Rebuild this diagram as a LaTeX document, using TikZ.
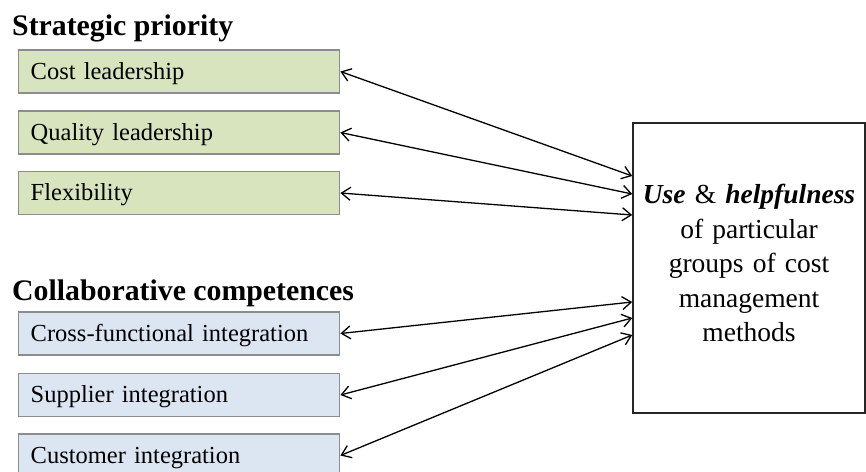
\documentclass[tikz,border=0pt]{standalone}
\usepackage{fontspec}
\setmainfont{Liberation Serif}
\usetikzlibrary{arrows.meta}
\definecolor{priogreen}{HTML}{D7E4BD}
\definecolor{compblue}{HTML}{DCE6F2}
\definecolor{boxgray}{HTML}{8C8C8C}
\tikzset{
  factor/.style={draw=boxgray, line width=1.4pt, anchor=west, inner xsep=12pt, inner ysep=0pt,
    text width=297pt, align=left, minimum height=43pt, text height=19pt, text depth=4pt,
    font=\fontsize{24.5}{29}\selectfont},
  heading/.style={anchor=base west, inner sep=0pt, font=\fontsize{29.8}{34}\selectfont\bfseries},
  link/.style={line width=1.3pt, {Straight Barb[length=9pt,width=13pt]}-{Straight Barb[length=9pt,width=13pt]}},
}
\begin{document}
\begin{tikzpicture}[x=1pt,y=-1pt]
  \clip (0,0) rectangle (866,471);
  % headings
  \node[heading] (prio) at (12,35) {Strategic priority};
  \node[heading] (comp) at (12,300) {Collaborative competences};
  % left factors
  \node[factor, fill=priogreen] (cost) at (18,71.5) {Cost leadership};
  \node[factor, fill=priogreen] (quality) at (18,132.5) {Quality leadership};
  \node[factor, fill=priogreen] (flex) at (18,193) {Flexibility};
  \node[factor, fill=compblue] (cross) at (18,333.5) {Cross-functional integration};
  \node[factor, fill=compblue] (supplier) at (18,395) {Supplier integration};
  \node[factor, fill=compblue] (customer) at (18,455.5) {Customer integration};
  % outcome box
  \node[draw=black!85, line width=1.5pt, minimum width=232pt, minimum height=290pt, inner sep=0pt] (usage) at (749,268) {};
  \node[anchor=north, inner sep=0pt, text width=230pt, align=center,
    font=\fontsize{27.5}{34.5}\selectfont] (usagetext) at (749,184)
    {\textbf{\textit{Use}} \& \textbf{\textit{helpfulness}}\\ of particular\\ groups of cost\\ management\\ methods};
  % connectors
  \foreach \src/\dy in {cost/92, quality/74, flex/53, cross/-34, supplier/-50, customer/-67}
    \draw[link] (\src.east) -- ([yshift=\dy pt]usage.west);
\end{tikzpicture}
\end{document}
